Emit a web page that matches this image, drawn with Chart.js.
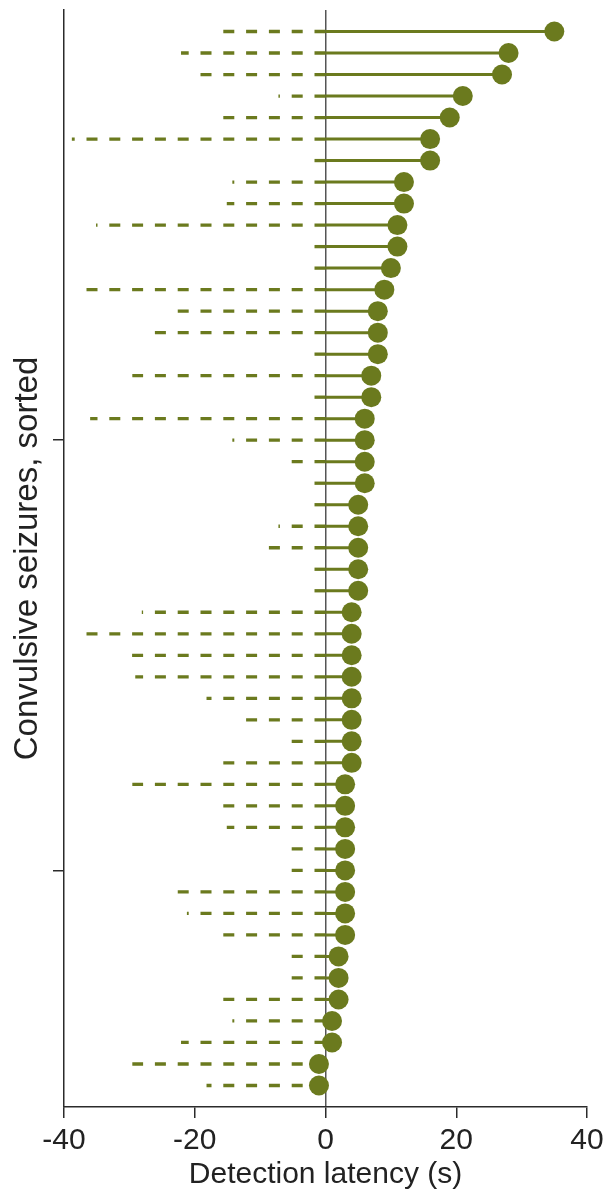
<!DOCTYPE html>
<html>
<head>
<meta charset="utf-8">
<script src="https://cdn.jsdelivr.net/npm/chart.js@4.4.1/dist/chart.umd.min.js"></script>
<style>
  html, body { margin: 0; padding: 0; background: #fff; }
  #wrap { width: 605px; height: 1191px; }
</style>
</head>
<body>
<div id="wrap"><canvas id="myChart" width="605" height="1191"></canvas></div>
<script>
// seizures sorted by detection latency (top row = slowest)
const latency = [35, 28, 27, 21, 19, 16, 16, 12, 12, 11,
                 11, 10, 9, 8, 8, 8, 7, 7, 6, 6,
                 6, 6, 5, 5, 5, 5, 5, 4, 4, 4,
                 4, 4, 4, 4, 4, 3, 3, 3, 3, 3,
                 3, 3, 3, 2, 2, 2, 1, 1, -1, -1];
// left end of the dashed line for each seizure (s)
const dashStart = [-15.7, -22.1, -19.15, -7.2, -15.7, -38.8, -2.5, -14.25, -15.1, -35.1,
                   -2.5, -2.5, -36.6, -22.6, -26.1, -2.5, -29.55, -2.5, -36.0, -14.25,
                   -5.2, -2.5, -2.5, -7.2, -8.7, -2.5, -2.5, -28.1, -36.6, -29.6,
                   -29.1, -18.2, -12.2, -5.2, -15.7, -29.55, -15.7, -15.1, -5.2, -5.2,
                   -22.6, -21.2, -15.7, -5.2, -5.2, -15.7, -14.25, -22.1, -29.55, -18.2];
const yTicks = [20, 40];
const xTicks = [-40, -20, 0, 20, 40];

const olive = "rgb(107, 122, 30)";
const axisColor = "#2b2b2b";
const fontFamily = "'Liberation Sans', Arial, sans-serif";

// build line segments (null point breaks the line between rows)
const solidPts = [];
const dashPts = [];
const dotPts = [];
latency.forEach((v, i) => {
  const row = i + 1;
  solidPts.push({x: 0, y: row}, {x: v, y: row}, {x: null, y: null});
  dashPts.push({x: 0, y: row}, {x: dashStart[i], y: row}, {x: null, y: null});
  dotPts.push({x: v, y: row});
});

const ctx = document.getElementById('myChart').getContext('2d');
new Chart(ctx, {
  type: 'line',
  data: {
    datasets: [
      {
        data: dotPts,
        showLine: false,
        pointRadius: 10,
        pointBackgroundColor: olive,
        pointBorderWidth: 0,
        order: 0
      },
      {
        data: solidPts,
        borderColor: olive,
        borderWidth: 3,
        pointRadius: 0,
        spanGaps: false,
        order: 1
      },
      {
        data: dashPts,
        borderColor: olive,
        borderWidth: 3.3,
        borderCapStyle: 'butt',
        pointRadius: 0,
        spanGaps: false,
        // segment option makes each row stroke separately, so the dash starts at 0
        segment: { borderDash: () => [11, 11.8] },
        order: 2
      }
    ]
  },
  options: {
    responsive: false,
    animation: false,
    events: [],
    layout: { padding: { top: 9, right: 18, left: 0, bottom: 0 } },
    plugins: { legend: { display: false }, tooltip: { enabled: false } },
    scales: {
      x: {
        type: 'linear',
        min: -40,
        max: 40,
        z: 1,
        afterFit: (scale) => {
          scale.height = 84;
          scale.paddingLeft = 0;
          scale.paddingRight = 0;
        },
        afterBuildTicks: (scale) => { scale.ticks = xTicks.map(v => ({value: v})); },
        grid: {
          drawOnChartArea: true,
          color: (c) => (c.tick && c.tick.value === 0) ? '#555' : 'rgba(0,0,0,0)',
          lineWidth: 1.5,
          tickColor: axisColor,
          tickWidth: 1.5,
          tickLength: 11
        },
        border: { color: axisColor, width: 1.5 },
        ticks: {
          color: '#222',
          font: { family: fontFamily, size: 30 },
          padding: 5,
          maxRotation: 0
        },
        title: {
          display: true,
          text: 'Detection latency (s)',
          color: '#222',
          font: { family: fontFamily, size: 30 },
          padding: { top: 0, bottom: -2 }
        }
      },
      y: {
        type: 'linear',
        reverse: true,
        min: 0,
        max: 51,
        afterFit: (scale) => { scale.width = 64; },
        afterBuildTicks: (scale) => { scale.ticks = yTicks.map(v => ({value: v})); },
        grid: {
          drawOnChartArea: false,
          lineWidth: 1.5,
          tickColor: axisColor,
          tickLength: 11
        },
        border: { color: axisColor, width: 1.5 },
        ticks: { display: false },
        title: {
          display: true,
          text: 'Convulsive seizures, sorted',
          color: '#222',
          font: { family: fontFamily, size: 33 },
          padding: { top: 8, bottom: 0 }
        }
      }
    }
  }
});
</script>
</body>
</html>
